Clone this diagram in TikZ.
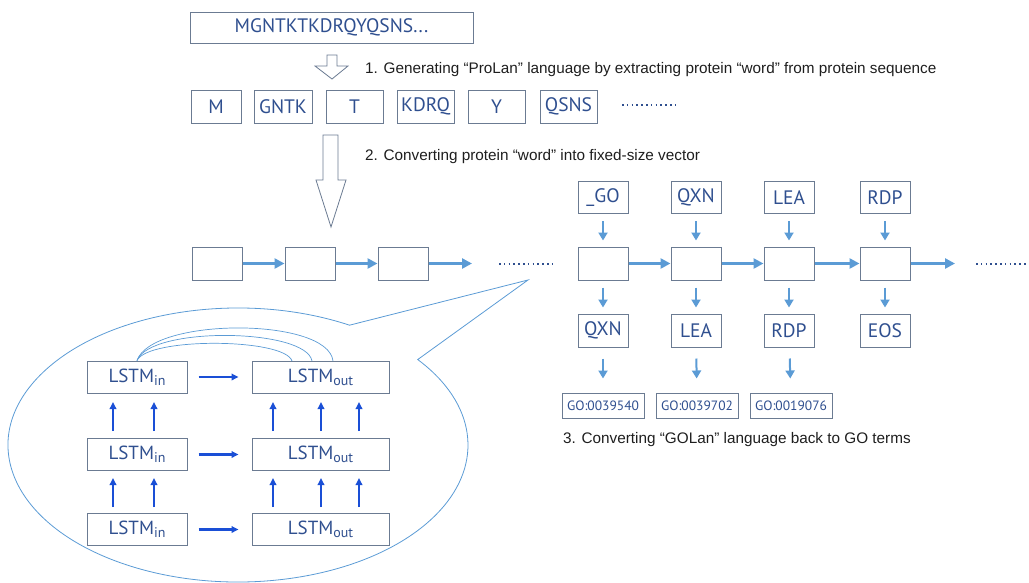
\documentclass[tikz,border=0pt]{standalone}
\usepackage{fontspec}
\setmainfont{Liberation Sans}
\newfontfamily\boxfont{PT Sans}
\usetikzlibrary{arrows.meta,positioning}
\definecolor{boxline}{HTML}{6B7B92}
\definecolor{boxtext}{HTML}{2F4F8F}
\definecolor{flow}{HTML}{5B9BD5}
\definecolor{lstmflow}{HTML}{1A4FD6}
\definecolor{captext}{HTML}{1E1E1E}
\begin{document}
\begin{tikzpicture}[x=1pt,y=-1pt,
    box/.style={draw=boxline,line width=1pt,inner sep=0pt,text=boxtext,
        font=\boxfont\fontsize{19.5}{21}\selectfont},
    wordbox/.style={box,minimum width=57pt,minimum height=33pt},
    cell/.style={box,minimum width=50pt,minimum height=33pt},
    gobox/.style={box,minimum width=82pt,minimum height=25pt,
        font=\boxfont\fontsize{13.5}{15}\selectfont},
    lstmbox/.style={box,minimum height=32pt,font=\boxfont\fontsize{19}{21}\selectfont},
    caption/.style={anchor=west,text=captext,inner sep=0pt,
        font=\fontsize{15.3}{17}\selectfont},
    hollow/.style={draw=boxline,line width=0.8pt,fill=white},
    chain/.style={flow,line width=3pt,-{Triangle[length=10pt,width=10pt]}},
    feed/.style={flow,line width=2pt,-{Triangle[length=8pt,width=9pt]}},
    up/.style={lstmflow,line width=2.2pt,-{Triangle[length=7pt,width=6.5pt]}},
    dots/.style={draw=boxtext,line width=2pt,dash pattern=on 1.6pt off 3.2pt}]
\useasboundingbox (0,0) rectangle (1029,582);

% protein sequence and its words
\node [box,minimum width=283pt,minimum height=31pt] (seq) at (331.5,27.5) {MGNTKTKDRQYQSNS...};
\node [wordbox,minimum width=50pt] (word0) at (216,106.5) {M};
\node [wordbox,minimum width=58pt] (word1) at (283,106.5) {GNTK};
\node [wordbox] (word2) at (354.5,106.5) {T};
\node [wordbox] (word3) at (425.5,106.5) {KDRQ};
\node [wordbox] (word4) at (496.5,106.5) {Y};
\node [wordbox] (word5) at (568.5,106.5) {QSNS};
\coordinate (wdots0) at (622,105);
\coordinate (wdots1) at (679,105);
\draw [dots] (wdots0) -- (wdots1);

\draw [hollow] (327,55) -- (337,55) -- (337,66) -- (348,66) -- (332,79)
    -- (315,66) -- (327,66) -- cycle;
\node [caption] (step1) at (365,70)
    {1. Generating “ProLan” language by extracting protein “word” from protein sequence};

\draw [hollow] (323,135) -- (338,135) -- (338,180) -- (346,180) -- (331,227)
    -- (316,180) -- (323,180) -- cycle;
\node [caption] (step2) at (365,157) {2. Converting protein “word” into fixed-size vector};

% encoder
\node [cell] (enc0) at (217,263.5) {};
\node [cell] (enc1) at (310,263.5) {};
\node [cell] (enc2) at (403,263.5) {};
\coordinate (encend) at (472,263.5);
\draw [chain] (enc0) -- (enc1);
\draw [chain] (enc1) -- (enc2);
\draw [chain] (enc2) -- (encend);
\coordinate (edots0) at (499,263.5);
\coordinate (edots1) at (556,263.5);
\draw [dots] (edots0) -- (edots1);

% decoder
\foreach \i/\x/\inw/\outw in {0/603/\_GO/QXN,1/696/QXN/LEA,2/789/LEA/RDP,3/885/RDP/EOS} {
    \node [cell,minimum height=32pt] (tok\i) at (\x,197.5) {\inw};
    \node [cell] (dec\i) at (\x,263.5) {};
    \node [cell] (res\i) at (\x,330.5) {\outw};
    \draw [feed,shorten <=7pt,shorten >=6pt] (tok\i) -- (dec\i);
    \draw [feed,shorten <=7pt,shorten >=6pt] (dec\i) -- (res\i);
}
\coordinate (decend) at (955,263.5);
\draw [chain] (dec0) -- (dec1);
\draw [chain] (dec1) -- (dec2);
\draw [chain] (dec2) -- (dec3);
\draw [chain] (dec3) -- (decend);
\coordinate (ddots0) at (976,263.5);
\coordinate (ddots1) at (1027,263.5);
\draw [dots] (ddots0) -- (ddots1);

% GO terms
\node [gobox] (go0) at (603,405.5) {GO:0039540};
\node [gobox] (go1) at (697,405.5) {GO:0039702};
\node [gobox] (go2) at (791,405.5) {GO:0019076};
\foreach \i in {0,1,2}
    \draw [feed,shorten <=11pt,shorten >=14pt] (res\i) -- (go\i);
\node [caption] (step3) at (563,440) {3. Converting “GOLan” language back to GO terms};

% speech bubble
\coordinate (tip) at (528,280);
\draw [flow,line width=0.8pt] (238,445) ++(-61:230 and 137)
    arc [start angle=-61,end angle=-398.6,x radius=230,y radius=137]
    -- (tip) -- cycle;

% stacked LSTM
\foreach \r/\y in {0/529.5,1/454.5,2/377} {
    \node [lstmbox,minimum width=100pt] (in\r) at (137,\y) {LSTM\raisebox{-0.3ex}{\fontsize{14}{15}\selectfont in}};
    \node [lstmbox,minimum width=137pt] (out\r) at (320.5,\y) {LSTM\raisebox{-0.3ex}{\fontsize{14}{15}\selectfont out}};
    \draw [up,shorten <=11pt,shorten >=13pt] (in\r) -- (out\r);
}
\foreach \r/\s in {0/1,1/2} {
    \foreach \x in {113,154}
        \draw [up] (\x,{\r==0 ? 507 : 431}) -- (\x,{\r==0 ? 478 : 402});
    \foreach \x in {273,321,359}
        \draw [up] (\x,{\r==0 ? 507 : 431}) -- (\x,{\r==0 ? 478 : 402});
}
\coordinate (att0) at (292,361);
\coordinate (att1) at (312,361);
\coordinate (att2) at (333,361);
\draw [flow,line width=0.7pt] (in2.north) .. controls (148,337) and (285,338) .. (att0);
\draw [flow,line width=0.7pt] (in2.north) .. controls (150,326) and (306,328) .. (att1);
\draw [flow,line width=0.7pt] (in2.north) .. controls (152,317) and (328,317) .. (att2);
\end{tikzpicture}
\end{document}
